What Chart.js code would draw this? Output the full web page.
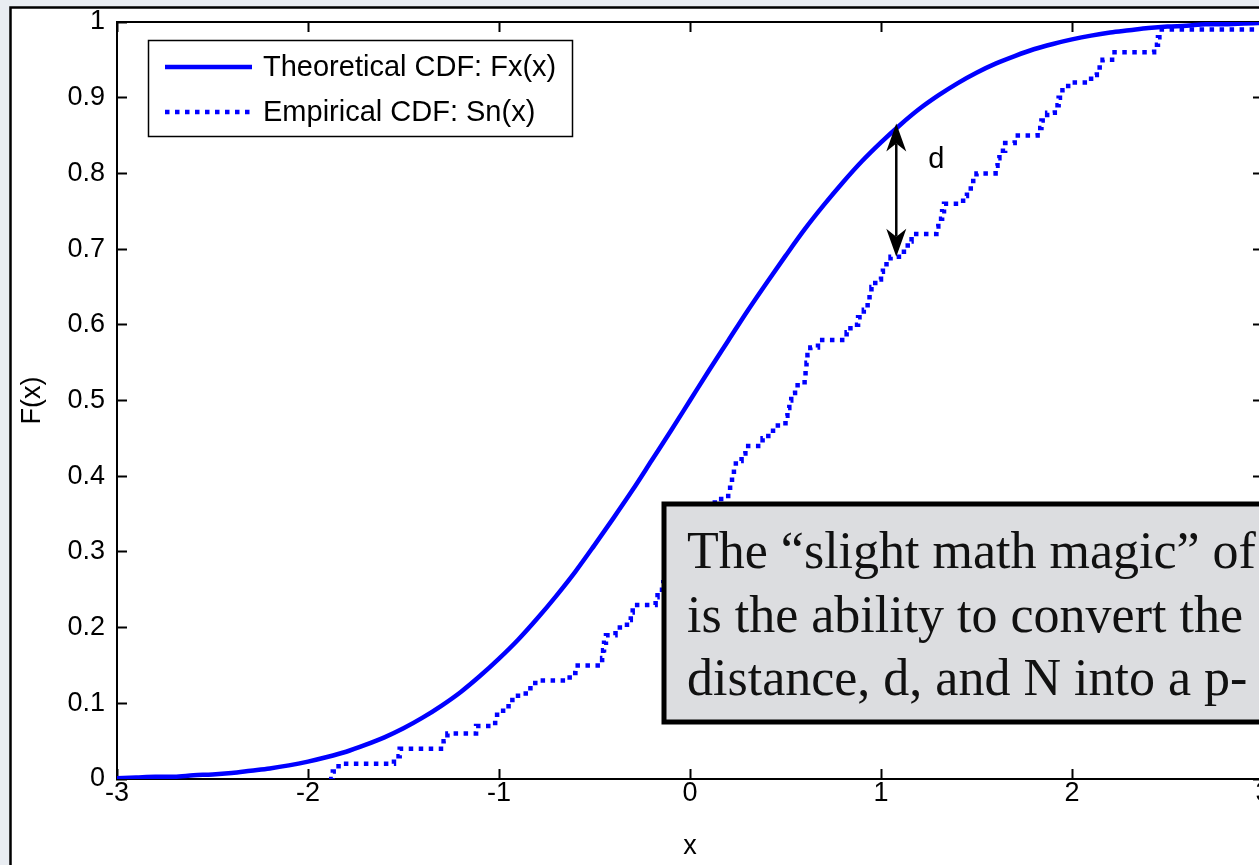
<!DOCTYPE html>
<html><head><meta charset="utf-8">
<script src="https://cdn.jsdelivr.net/npm/chart.js@4.4.0/dist/chart.umd.min.js"></script>
<style>
html,body{margin:0;padding:0;overflow:hidden;background:#e9edf2;width:1259px;height:865px;}
#wrap{position:absolute;left:0;top:0;width:1300px;height:865px;}
canvas{display:block;}
</style></head><body>
<div id="wrap"><canvas id="c" width="1300" height="865"></canvas></div>
<script>
// ---------- data ----------
const xTicks = [-3, -2, -1, 0, 1, 2, 3];
const xTickLabels = ['-3', '-2', '-1', '0', '1', '2', '3'];
const yTicks = [0, 0.1, 0.2, 0.3, 0.4, 0.5, 0.6, 0.7, 0.8, 0.9, 1];
const yTickLabels = ['0', '0.1', '0.2', '0.3', '0.4', '0.5', '0.6', '0.7', '0.8', '0.9', '1'];
const xTitle = 'x';
const yTitle = 'F(x)';
const seriesLabels = ['Theoretical CDF: Fx(x)', 'Empirical CDF: Sn(x)'];

// theoretical CDF
const theoX = [-3.0,-2.9,-2.8,-2.7,-2.6,-2.5,-2.4,-2.3,-2.2,-2.1,-2.0,-1.9,-1.8,-1.7,-1.6,-1.5,-1.4,-1.3,-1.2,-1.1,
  -1.0,-0.9,-0.8,-0.7,-0.6,-0.5,-0.4,-0.3,-0.2,-0.1,0.0,0.1,0.2,0.3,0.4,0.5,0.6,0.7,0.8,0.9,
  1.0,1.1,1.2,1.3,1.4,1.5,1.6,1.7,1.8,1.9,2.0,2.1,2.2,2.3,2.4,2.5,2.6,2.7,2.8,2.9,3.0];
const theoY = [0.001,0.002,0.003,0.003,0.005,0.006,0.008,0.011,0.014,0.018,0.023,0.029,0.036,0.045,0.055,0.067,0.081,0.097,0.115,0.136,
  0.159,0.184,0.212,0.242,0.274,0.309,0.345,0.382,0.421,0.460,0.500,0.540,0.579,0.618,0.655,0.691,0.726,0.758,0.788,0.816,
  0.841,0.864,0.885,0.903,0.919,0.933,0.945,0.955,0.964,0.971,0.977,0.982,0.986,0.989,0.992,0.994,0.995,0.997,0.997,0.998,0.999];

// empirical CDF: jump positions and level after each jump (dotted step curve)
const empX = [-1.89,-1.87,-1.84,-1.55,-1.52,-1.29,-1.27,-1.12,-1.02,-1.01,
  -0.95,-0.93,-0.86,-0.81,-0.63,-0.60,-0.46,-0.455,-0.45,-0.44,
  -0.39,-0.33,-0.31,-0.30,-0.18,-0.17,-0.14,-0.12,-0.08,-0.05,
  -0.03,-0.01,0.02,0.04,0.06,0.08,0.10,0.13,0.20,0.21,
  0.22,0.23,0.24,0.27,0.29,0.38,0.41,0.46,0.50,0.51,
  0.52,0.53,0.55,0.60,0.605,0.61,0.615,0.63,0.67,0.82,
  0.84,0.88,0.91,0.93,0.94,0.95,0.97,1.00,1.01,1.05,
  1.12,1.14,1.16,1.29,1.30,1.32,1.33,1.43,1.45,1.47,
  1.50,1.60,1.61,1.62,1.65,1.70,1.82,1.84,1.87,1.91,
  1.93,1.95,1.98,2.10,2.13,2.16,2.21,2.43,2.45,2.47,3.20];
const empY = [0.00,0.01,0.02,0.03,0.04,0.05,0.06,0.07,0.08,0.09,
  0.10,0.11,0.12,0.13,0.14,0.15,0.16,0.17,0.18,0.19,
  0.20,0.21,0.22,0.23,0.24,0.25,0.26,0.27,0.28,0.29,
  0.30,0.31,0.32,0.33,0.34,0.35,0.36,0.37,0.38,0.39,
  0.40,0.41,0.42,0.43,0.44,0.45,0.46,0.47,0.48,0.49,
  0.50,0.51,0.52,0.53,0.54,0.55,0.56,0.57,0.58,0.59,
  0.60,0.61,0.62,0.63,0.64,0.65,0.66,0.67,0.68,0.69,
  0.70,0.71,0.72,0.73,0.74,0.75,0.76,0.77,0.78,0.79,
  0.80,0.81,0.82,0.83,0.84,0.85,0.86,0.87,0.88,0.89,
  0.90,0.91,0.92,0.93,0.94,0.95,0.96,0.97,0.98,0.99,1.00];

// the "d" gap annotation (data coordinates)
const gapX = 1.08;
const gapTop = 0.866;
const gapBottom = 0.69;
const gapLabel = 'd';
const gapLabelX = 1.29;
const gapLabelY = 0.818;

const noteLines = ['The \u201Cslight math magic\u201D of', 'is the ability to convert the', 'distance, d, and N into a p-'];

// ---------- styles ----------
const BLUE = '#0000ff';
const SANS = '"Liberation Sans", Arial, Helvetica, sans-serif';
const tickFont = {family: SANS, size: 27};
const legendFont = '29px ' + SANS;

const frameBg = {
  id: 'frameBg',
  beforeDraw(chart) {
    const {ctx, width, height} = chart;
    ctx.save();
    ctx.fillStyle = '#e9edf2';
    ctx.fillRect(0, 0, width, height);
    ctx.fillStyle = '#ffffff';
    ctx.fillRect(10, 7, width - 10, height - 7);
    ctx.strokeStyle = '#000';
    ctx.lineWidth = 2.5;
    ctx.beginPath();
    ctx.moveTo(10.5, height + 5);
    ctx.lineTo(10.5, 7.5);
    ctx.lineTo(width + 5, 7.5);
    ctx.stroke();
    ctx.restore();
  }
};

const overlays = {
  id: 'overlays',
  afterDraw(chart) {
    const {ctx, chartArea} = chart;
    const xs = chart.scales.x, ys = chart.scales.y;
    ctx.save();

    // legend box
    const lx = chartArea.left + 31, ly = chartArea.top + 18, lw = 424, lh = 96;
    ctx.fillStyle = '#fff';
    ctx.fillRect(lx, ly, lw, lh);
    ctx.strokeStyle = '#000';
    ctx.lineWidth = 1.5;
    ctx.strokeRect(lx + 0.5, ly + 0.5, lw, lh);
    ctx.font = legendFont;
    ctx.textBaseline = 'middle';
    ctx.textAlign = 'left';
    chart.data.datasets.forEach((ds, i) => {
      const yy = ly + 27 + i * 45;
      ctx.strokeStyle = ds.borderColor;
      ctx.lineWidth = ds.borderWidth;
      ctx.setLineDash(ds.borderDash || []);
      ctx.lineCap = 'butt';
      ctx.beginPath();
      ctx.moveTo(lx + 17, yy);
      ctx.lineTo(lx + 104, yy);
      ctx.stroke();
      ctx.setLineDash([]);
      ctx.fillStyle = '#000';
      ctx.fillText(ds.label, lx + 115, yy + 1);
    });

    // double arrow "d"
    const ax = xs.getPixelForValue(gapX);
    const y1 = ys.getPixelForValue(gapTop);
    const y2 = ys.getPixelForValue(gapBottom);
    const hl = 28, hw = 10, notch = 20;
    ctx.strokeStyle = '#000';
    ctx.fillStyle = '#000';
    ctx.lineWidth = 2.5;
    ctx.beginPath();
    ctx.moveTo(ax, y1 + notch);
    ctx.lineTo(ax, y2 - notch);
    ctx.stroke();
    ctx.beginPath();
    ctx.moveTo(ax, y1);
    ctx.lineTo(ax + hw, y1 + hl);
    ctx.lineTo(ax, y1 + notch);
    ctx.lineTo(ax - hw, y1 + hl);
    ctx.closePath();
    ctx.fill();
    ctx.beginPath();
    ctx.moveTo(ax, y2);
    ctx.lineTo(ax + hw, y2 - hl);
    ctx.lineTo(ax, y2 - notch);
    ctx.lineTo(ax - hw, y2 - hl);
    ctx.closePath();
    ctx.fill();
    ctx.font = '29px ' + SANS;
    ctx.textAlign = 'center';
    ctx.textBaseline = 'middle';
    ctx.fillText(gapLabel, xs.getPixelForValue(gapLabelX), ys.getPixelForValue(gapLabelY));

    // grey note box
    const bx = 664, by = 504, bw = 700, bh = 218;
    ctx.fillStyle = '#dcdde0';
    ctx.fillRect(bx, by, bw, bh);
    ctx.strokeStyle = '#000';
    ctx.lineWidth = 5;
    ctx.strokeRect(bx, by, bw, bh);
    ctx.fillStyle = '#111';
    ctx.font = '52px "Liberation Serif", "Times New Roman", serif';
    ctx.textAlign = 'left';
    ctx.textBaseline = 'alphabetic';
    noteLines.forEach((t, i) => ctx.fillText(t, 687, 568 + i * 63.5));

    ctx.restore();
  }
};

const axisCommon = (extra) => Object.assign({
  type: 'linear',
  border: {display: true, color: '#000', width: 2},
  grid: {display: true, drawOnChartArea: false, drawTicks: true, tickLength: -10, tickWidth: 2, tickColor: '#000'}
}, extra);

new Chart(document.getElementById('c'), {
  type: 'line',
  data: {
    datasets: [
      {
        label: seriesLabels[0],
        data: theoX.map((v, i) => ({x: v, y: theoY[i]})),
        borderColor: BLUE, borderWidth: 4.5, pointRadius: 0,
        cubicInterpolationMode: 'monotone', fill: false
      },
      {
        label: seriesLabels[1],
        data: empX.map((v, i) => ({x: v, y: empY[i]})),
        borderColor: BLUE, borderWidth: 4.5, borderDash: [4.5, 5.5], pointRadius: 0,
        stepped: 'before', fill: false, borderCapStyle: 'butt'
      }
    ]
  },
  options: {
    responsive: false,
    animation: false,
    devicePixelRatio: 1,
    layout: {padding: {left: 0, top: 22, right: 37, bottom: 0}},
    plugins: {legend: {display: false}, tooltip: {enabled: false}},
    scales: {
      x: axisCommon({
        position: 'bottom', min: -3, max: 3,
        afterBuildTicks: s => { s.ticks = xTicks.map(v => ({value: v})); },
        afterFit: s => { s.height = 86; s.paddingLeft = 0; s.paddingRight = 0; },
        ticks: {callback: (v, i) => xTickLabels[i], font: tickFont, color: '#000', padding: 8, maxRotation: 0, autoSkip: false},
        title: {display: true, text: xTitle, font: tickFont, color: '#000', padding: {top: 0, bottom: 2}}
      }),
      x2: axisCommon({
        position: 'top', min: -3, max: 3,
        afterBuildTicks: s => { s.ticks = xTicks.map(v => ({value: v})); },
        afterFit: s => { s.height = 0; s.paddingLeft = 0; s.paddingRight = 0; },
        ticks: {display: false}
      }),
      y: axisCommon({
        position: 'left', min: 0, max: 1,
        afterBuildTicks: s => { s.ticks = yTicks.map(v => ({value: v})); },
        afterFit: s => { s.width = 117; s.paddingTop = 0; s.paddingBottom = 0; },
        ticks: {callback: (v, i) => yTickLabels[i], font: tickFont, color: '#000', padding: 22, autoSkip: false},
        title: {display: true, text: yTitle, font: tickFont, color: '#000', padding: {top: 16, bottom: 0}}
      }),
      y2: axisCommon({
        position: 'right', min: 0, max: 1,
        afterBuildTicks: s => { s.ticks = yTicks.map(v => ({value: v})); },
        afterFit: s => { s.width = 0; s.paddingTop = 0; s.paddingBottom = 0; },
        ticks: {display: false}
      })
    }
  },
  plugins: [frameBg, overlays]
});
</script>
</body></html>
